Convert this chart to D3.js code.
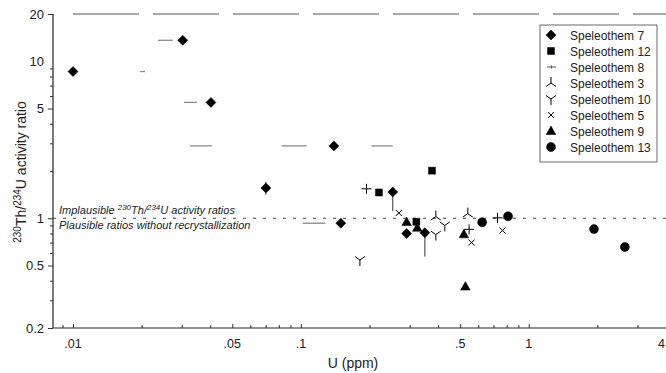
<!DOCTYPE html>
<html>
<head>
<meta charset="utf-8">
<script src="https://cdn.jsdelivr.net/npm/d3@7"></script>
<style>
  body { margin: 0; background: #fff; }
  svg { display: block; font-family: "Liberation Sans", Arial, Helvetica, sans-serif; }
</style>
</head>
<body>
<div id="chart"></div>
<script>
// [U ppm, 230Th/234U] per speleothem
const s7  = [[0.01, 8.6], [0.0303, 13.6], [0.0403, 5.47], [0.0702, 1.56], [0.1396, 2.89],
             [0.1497, 0.93], [0.253, 1.47], [0.291, 0.80], [0.350, 0.81]];
const s7Err = [[0.0702, 1.41, 1.71], [0.253, 1.11, 1.47], [0.350, 0.57, 0.81]]; // [U, lo, hi]
const s12 = [[0.376, 2.01], [0.220, 1.46], [0.321, 0.95]];
const s8  = [[0.194, 1.54], [0.547, 0.85], [0.729, 1.006]];
const s3  = [[0.391, 1.025], [0.540, 1.07]];
const s10 = [[0.1815, 0.542], [0.428, 0.90], [0.391, 0.787]];
const s5  = [[0.269, 1.08], [0.561, 0.70], [0.766, 0.836]];
const s9  = [[0.291, 0.946], [0.324, 0.87], [0.519, 0.79], [0.527, 0.367]];
const s13 = [[0.624, 0.943], [0.811, 1.03], [1.932, 0.853], [2.64, 0.656]];
// faint horizontal streaks in the scan: [U from, U to, ratio]
const streaks = [[0.0236, 0.0274, 13.6], [0.0197, 0.0207, 8.6], [0.0307, 0.0350, 5.47],
                 [0.0326, 0.0407, 2.89], [0.0824, 0.106, 2.89], [0.204, 0.253, 2.89],
                 [0.102, 0.128, 0.93]];

const seriesNames = ["Speleothem 7", "Speleothem 12", "Speleothem 8", "Speleothem 3",
                     "Speleothem 10", "Speleothem 5", "Speleothem 9", "Speleothem 13"];
const seriesKinds = ["diamond", "square", "plus", "tripod", "wye", "cross", "triangle", "circle"];
const seriesData = [s7, s12, s8, s3, s10, s5, s9, s13];

const xTickVals = [0.01, 0.05, 0.1, 0.5, 1, 4];
const xTickText = [".01", ".05", ".1", ".5", "1", "4"];
const yTickVals = [0.2, 0.5, 1, 5, 10, 20];
const yTickText = ["0.2", "0.5", "1", "5", "10", "20"];

const width = 666, height = 373;
const plotLeft = 53, plotRight = 666, plotTop = 14, plotBottom = 328;

const x = d3.scaleLog().domain([0.00817, 4]).range([plotLeft, plotRight]);
const y = d3.scaleLog().domain([0.2, 20]).range([plotBottom, plotTop]);

const svg = d3.select("#chart").append("svg")
  .attr("width", width)
  .attr("height", height);

// symbol paths centered on 0,0
function symbolPath(kind) {
  switch (kind) {
    case "diamond": return "M0,-5L5,0L0,5L-5,0Z";
    case "square": return "M-3.5,-3.5H3.5V3.5H-3.5Z";
    case "triangle": return "M0,-5L4.8,3.5H-4.8Z";
    case "circle": return d3.symbol(d3.symbolCircle, 64)();
    case "plus": return "M-5,0H5M0,-5V5";
    case "cross": return "M-3,-3L3,3M3,-3L-3,3";
    case "tripod": return "M0,0V-6M0,0L-5,3.5M0,0L5,3.5";
    case "wye": return "M0,0V6M0,0L-5,-3.5M0,0L5,-3.5";
  }
}
const filled = k => ["diamond", "square", "triangle", "circle"].includes(k);

function drawSymbol(g, kind, px, py) {
  g.append("path")
    .attr("transform", `translate(${px},${py})`)
    .attr("d", symbolPath(kind))
    .attr("fill", filled(kind) ? "#000" : "none")
    .attr("stroke", "#000")
    .attr("stroke-width", filled(kind) ? 0.5 : 1);
}

// axes
const yAxis = d3.axisLeft(y)
  .tickValues(d3.range(2, 10).map(d => d / 10).concat(d3.range(1, 10), [20]))
  .tickSize(5)
  .tickFormat("");
svg.append("g").attr("transform", `translate(${plotLeft},0)`).call(yAxis)
  .call(g => g.select(".domain").remove())
  .selectAll("line").attr("stroke", "#333").attr("x2", d => yTickVals.includes(d) ? -5 : -3);

const xMinor = [0.009]
  .concat(d3.range(1, 10).map(d => d / 100), d3.range(1, 10).map(d => d / 10), [1, 2, 3, 4]);
const xAxis = d3.axisBottom(x).tickValues(xMinor).tickSize(-3).tickFormat("");
svg.append("g").attr("transform", `translate(0,${plotBottom})`).call(xAxis)
  .call(g => g.select(".domain").remove())
  .selectAll("line").attr("stroke", "#333").attr("y2", d => xTickVals.includes(d) ? -4 : -3);

svg.append("line").attr("x1", plotLeft).attr("x2", plotRight).attr("y1", plotBottom).attr("y2", plotBottom)
  .attr("stroke", "#222").attr("stroke-width", 1.2);
svg.append("line").attr("x1", plotLeft).attr("x2", plotLeft).attr("y1", plotTop).attr("y2", plotBottom)
  .attr("stroke", "#222").attr("stroke-width", 1.2);
svg.append("line").attr("x1", plotLeft + 20).attr("x2", plotRight).attr("y1", y(20)).attr("y2", y(20))
  .attr("stroke", "#555").attr("stroke-width", 1.2).attr("stroke-dasharray", "66,14");

svg.append("g").selectAll("text").data(yTickVals).join("text")
  .attr("x", plotLeft - 9).attr("y", d => y(d) + 4.5)
  .attr("text-anchor", "end").attr("font-size", 13).attr("fill", "#222")
  .text((d, i) => yTickText[i]);

svg.append("g").selectAll("text").data(xTickVals).join("text")
  .attr("x", d => d === 4 ? x(d) - 1 : x(d)).attr("y", 348)
  .attr("text-anchor", d => d === 4 ? "end" : "middle")
  .attr("font-size", 12.5).attr("fill", "#222")
  .text((d, i) => xTickText[i]);

svg.append("text").attr("x", 353).attr("y", 368).attr("text-anchor", "middle")
  .attr("font-size", 14).attr("fill", "#222").text("U (ppm)");

const yTitle = svg.append("text")
  .attr("transform", "translate(26,172) rotate(-90)")
  .attr("text-anchor", "middle").attr("font-size", 14).attr("fill", "#222");
yTitle.append("tspan").attr("font-size", 10).attr("dy", -5).text("230");
yTitle.append("tspan").attr("dy", 5).text("Th/");
yTitle.append("tspan").attr("font-size", 10).attr("dy", -5).text("234");
yTitle.append("tspan").attr("dy", 5).text("U activity ratio");

// reference line at ratio 1
svg.append("line").attr("x1", plotLeft).attr("x2", plotRight).attr("y1", y(1)).attr("y2", y(1))
  .attr("stroke", "#444").attr("stroke-width", 1).attr("stroke-dasharray", "3,7");

const note1 = svg.append("text").attr("x", 59).attr("y", y(1) - 4)
  .attr("font-size", 11).attr("font-style", "italic").attr("fill", "#222");
note1.append("tspan").text("Implausible ");
note1.append("tspan").attr("font-size", 8).attr("dy", -4).text("230");
note1.append("tspan").attr("dy", 4).text("Th/");
note1.append("tspan").attr("font-size", 8).attr("dy", -4).text("234");
note1.append("tspan").attr("dy", 4).text("U activity ratios");
svg.append("text").attr("x", 59).attr("y", y(1) + 11)
  .attr("font-size", 11).attr("font-style", "italic").attr("fill", "#222")
  .text("Plausible ratios without recrystallization");

// scan streaks
svg.append("g").selectAll("line").data(streaks).join("line")
  .attr("x1", d => x(d[0])).attr("x2", d => x(d[1]))
  .attr("y1", d => y(d[2])).attr("y2", d => y(d[2]))
  .attr("stroke", "#888").attr("stroke-width", 1.3);

// error bars
svg.append("g").selectAll("line").data(s7Err).join("line")
  .attr("x1", d => x(d[0])).attr("x2", d => x(d[0]))
  .attr("y1", d => y(d[1])).attr("y2", d => y(d[2]))
  .attr("stroke", "#333").attr("stroke-width", 1);

// points
const pts = svg.append("g");
seriesData.forEach((data, i) => {
  data.forEach(d => drawSymbol(pts, seriesKinds[i], x(d[0]), y(d[1])));
});

// legend
const lg = svg.append("g");
lg.append("rect").attr("x", 540).attr("y", 25).attr("width", 117).attr("height", 137)
  .attr("fill", "#fff").attr("stroke", "#444").attr("stroke-width", 0.8);
seriesNames.forEach((name, i) => {
  const ly = 35 + i * 16;
  if (seriesKinds[i] === "plus") {
    lg.append("path").attr("d", `M${547},${ly}H${556}M${551.5},${ly - 1.5}V${ly + 1.5}`)
      .attr("stroke", "#555").attr("stroke-width", 1);
  } else {
    drawSymbol(lg, seriesKinds[i], 551, ly);
  }
  lg.append("text").attr("x", 570).attr("y", ly + 4.5)
    .attr("font-size", 12).attr("fill", "#222").text(name);
});
</script>
</body>
</html>
